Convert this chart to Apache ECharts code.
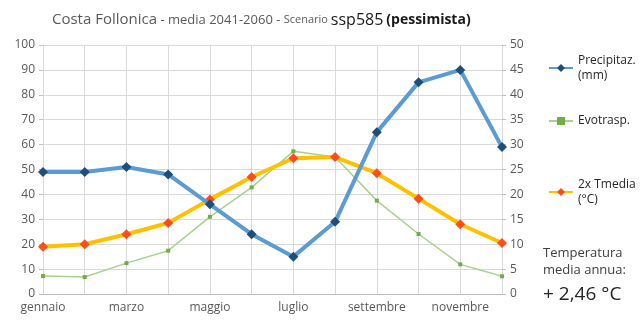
<!DOCTYPE html>
<html><head><meta charset="utf-8">
<script src="https://cdn.jsdelivr.net/npm/echarts@6/dist/echarts.min.js"></script>
<style>html,body{margin:0;padding:0;background:#fff}#c{width:643px;height:320px}</style>
</head><body><div id="c"></div>
<script>
const months = ['gennaio','febbraio','marzo','aprile','maggio','giugno','luglio','agosto','settembre','ottobre','novembre','dicembre'];
const precip = [49, 49, 51, 48, 36, 24, 15, 29, 65, 85, 90, 59];
const evotrasp = [7.2, 6.8, 12.4, 17.4, 31, 42.8, 57.3, 55, 37.5, 24.1, 11.9, 7.1];
const tmedia2x = [19, 20, 24, 28.5, 38, 47, 54.5, 55, 48.5, 38.3, 28, 20.5];
const leftTicks = {min: 0, max: 100, interval: 10};
const rightTicks = {min: 0, max: 50, interval: 5};
const names = ['Precipitaz.\n(mm)', 'Evotrasp.', '2x Tmedia\n(°C)'];

const FONT = '"Open Sans", "Liberation Sans", sans-serif';
const chart = echarts.init(document.getElementById('c'));
const lbl = {color: '#595959', fontSize: 12, fontFamily: FONT};
chart.setOption({
  animation: false,
  textStyle: {fontFamily: FONT},
  title: {
    left: 47, top: 7,
    text: '{a|Costa Follonica}{b| - media 2041-2060 - }{c|Scenario }{d|ssp585}{e|(pessimista)}',
    textStyle: {
      fontWeight: 'normal',
      rich: {
        a: {fontSize: 15, color: '#595959', fontFamily: FONT, fontWeight: 'normal'},
        b: {fontSize: 13, color: '#595959', fontFamily: FONT, fontWeight: 'normal'},
        c: {fontSize: 11, color: '#595959', fontFamily: FONT, fontWeight: 'normal'},
        d: {fontSize: 16, color: '#1a1a1a', fontFamily: FONT, fontWeight: 'normal', padding: [0, 3, 0, 0]},
        e: {fontSize: 14, color: '#1a1a1a', fontFamily: FONT, fontWeight: 'bold'}
      }
    }
  },
  grid: {left: 43, right: 141, top: 45, bottom: 26},
  legend: [
    {orient: 'vertical', left: 543, top: 48, data: [names[0]], itemWidth: 24, itemHeight: 10,
     textStyle: {color: '#262626', fontSize: 12, fontFamily: FONT, lineHeight: 15}},
    {orient: 'vertical', left: 543, top: 110, data: [names[1]], itemWidth: 24, itemHeight: 10,
     textStyle: {color: '#262626', fontSize: 12, fontFamily: FONT}},
    {orient: 'vertical', left: 543, top: 172, data: [names[2]], itemWidth: 24, itemHeight: 10,
     textStyle: {color: '#262626', fontSize: 12, fontFamily: FONT, lineHeight: 15}}
  ],
  graphic: [
    {type: 'text', left: 543, top: 245, style: {text: 'Temperatura\nmedia annua:', fill: '#404040', font: '13px ' + FONT, lineHeight: 17}},
    {type: 'text', left: 543, top: 285, style: {text: '+ 2,46 °C', fill: '#262626', font: '19px ' + FONT}}
  ],
  xAxis: {
    type: 'category', data: months, boundaryGap: false,
    axisLine: {lineStyle: {color: '#bfbfbf'}},
    axisTick: {show: false},
    axisLabel: Object.assign({interval: 1, margin: 8}, lbl),
    splitLine: {show: true, interval: 0, lineStyle: {color: '#d9d9d9'}}
  },
  yAxis: [
    {type: 'value', min: leftTicks.min, max: leftTicks.max, interval: leftTicks.interval,
     axisLine: {show: true, lineStyle: {color: '#d9d9d9'}},
     axisTick: {show: true, length: 4, lineStyle: {color: '#bfbfbf'}},
     axisLabel: Object.assign({margin: 8}, lbl),
     splitLine: {lineStyle: {color: '#d9d9d9'}}},
    {type: 'value', min: rightTicks.min, max: rightTicks.max, interval: rightTicks.interval, position: 'right',
     axisLine: {show: true, lineStyle: {color: '#d9d9d9'}},
     axisTick: {show: true, length: 4, lineStyle: {color: '#bfbfbf'}},
     axisLabel: Object.assign({margin: 8}, lbl),
     splitLine: {show: false}}
  ],
  series: [
    {name: names[0], type: 'line', data: precip, yAxisIndex: 0,
     lineStyle: {color: '#5b9bd5', width: 4}, itemStyle: {color: '#1f4e79'},
     symbol: 'diamond', symbolSize: 10, z: 4},
    {name: names[1], type: 'line', data: evotrasp, yAxisIndex: 0,
     lineStyle: {color: '#a9d18e', width: 1.5}, itemStyle: {color: '#70ad47'},
     symbol: 'rect', symbolSize: 4, z: 2},
    {name: names[2], type: 'line', data: tmedia2x, yAxisIndex: 0,
     lineStyle: {color: '#ffc000', width: 4}, itemStyle: {color: '#ff4d1a'},
     symbol: 'diamond', symbolSize: 10, z: 3}
  ]
});
</script></body></html>
